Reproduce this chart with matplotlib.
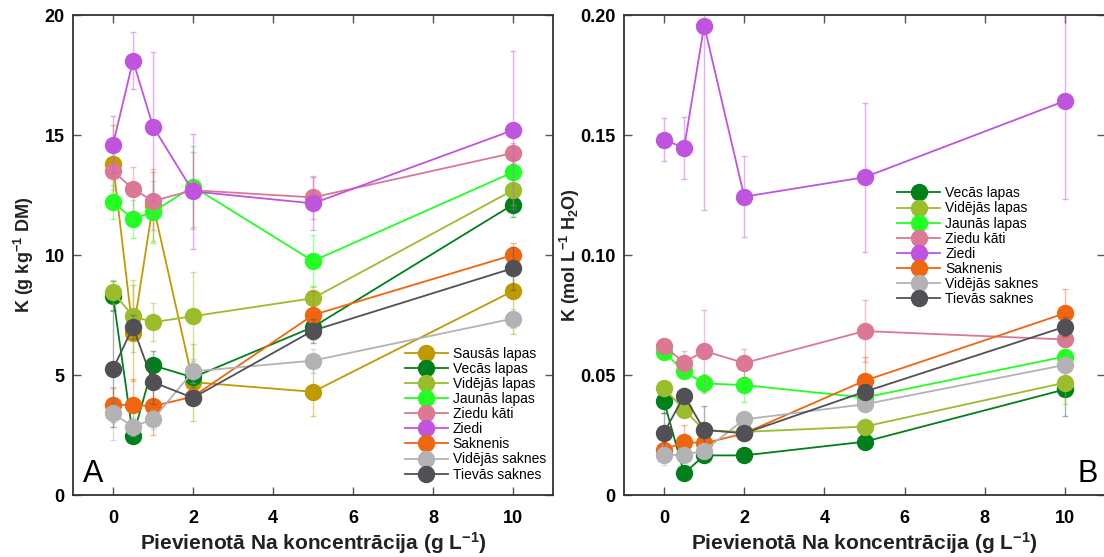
import matplotlib
matplotlib.use('Agg')
import matplotlib.pyplot as plt
from matplotlib.colors import to_rgba

plt.rcParams['font.family'] = ['Liberation Sans', 'DejaVu Sans']
plt.rcParams['mathtext.fontset'] = 'custom'
plt.rcParams['mathtext.rm'] = 'Liberation Sans:bold'
plt.rcParams['mathtext.bf'] = 'Liberation Sans:bold'
plt.rcParams['mathtext.default'] = 'bf'

# added Na concentration (g/L)
x = [0, 0.5, 1, 2, 5, 10]

labels = ['Sausās lapas', 'Vecās lapas', 'Vidējās lapas', 'Jaunās lapas',
          'Ziedu kāti', 'Ziedi', 'Saknenis', 'Vidējās saknes', 'Tievās saknes']
colors = ['#bf9a00', '#00801a', '#9bbd2b', '#22ff22', '#db7893',
          '#bf55de', '#f0650f', '#b3b3b6', '#505055']

# panel A: K (g/kg DM)
sausas_A = [13.8, 6.75, 12.1, 4.7, 4.3, 8.5]
vecas_A = [8.3, 2.45, 5.4, 4.9, 7.0, 12.1]
vidlapas_A = [8.45, 7.45, 7.2, 7.45, 8.2, 12.7]
jaunas_A = [12.2, 11.5, 11.8, 12.85, 9.75, 13.45]
ziedu_kati_A = [13.5, 12.75, 12.25, 12.7, 12.4, 14.25]
ziedi_A = [14.6, 18.1, 15.35, 12.65, 12.15, 15.2]
saknenis_A = [3.75, 3.75, 3.7, 4.1, 7.5, 10.0]
vidsaknes_A = [3.4, 2.85, 3.15, 5.15, 5.6, 7.35]
tievas_A = [5.25, 7.0, 4.7, 4.05, 6.85, 9.45]

sausas_A_err = [1.6, 2.0, 1.5, 1.6, 1.0, 1.8]
vecas_A_err = [0.6, 0.2, 0.6, 0.4, 0.5, 0.5]
vidlapas_A_err = [0.5, 1.5, 0.8, 1.85, 0.5, 0.6]
jaunas_A_err = [0.7, 0.8, 1.3, 1.7, 1.1, 0.5]
ziedu_kati_A_err = [0.8, 0.9, 1.2, 1.6, 0.9, 0.4]
ziedi_A_err = [1.2, 1.2, 3.1, 2.4, 1.1, 3.3]
saknenis_A_err = [0.7, 1.1, 1.2, 0.3, 1.0, 0.5]
vidsaknes_A_err = [1.1, 0.4, 0.4, 0.5, 0.5, 0.4]
tievas_A_err = [2.4, 0.5, 0.9, 0.3, 0.5, 0.9]

# panel B: K (mol/L H2O), no dry leaves
vecas_B = [0.039, 0.009, 0.0165, 0.0165, 0.0222, 0.044]
vidlapas_B = [0.0445, 0.0355, 0.027, 0.0263, 0.0285, 0.0468]
jaunas_B = [0.0595, 0.0515, 0.0465, 0.0458, 0.0406, 0.0577]
ziedu_kati_B = [0.062, 0.0552, 0.06, 0.055, 0.0683, 0.0648]
ziedi_B = [0.148, 0.1447, 0.1956, 0.1243, 0.1324, 0.1642]
saknenis_B = [0.0188, 0.0222, 0.0215, 0.0257, 0.0476, 0.0757]
vidsaknes_B = [0.0167, 0.0167, 0.0185, 0.0315, 0.0378, 0.0542]
tievas_B = [0.026, 0.0414, 0.0271, 0.0257, 0.043, 0.0701]

vecas_B_err = [0.005, 0.002, 0.002, 0.002, 0.003, 0.011]
vidlapas_B_err = [0.003, 0.003, 0.003, 0.003, 0.002, 0.009]
jaunas_B_err = [0.002, 0.002, 0.004, 0.007, 0.004, 0.003]
ziedu_kati_B_err = [0.002, 0.005, 0.017, 0.006, 0.013, 0.003]
ziedi_B_err = [0.009, 0.013, 0.077, 0.017, 0.031, 0.041]
saknenis_B_err = [0.003, 0.007, 0.003, 0.002, 0.010, 0.010]
vidsaknes_B_err = [0.004, 0.002, 0.002, 0.003, 0.003, 0.003]
tievas_B_err = [0.008, 0.003, 0.010, 0.002, 0.003, 0.004]

series_A = [sausas_A, vecas_A, vidlapas_A, jaunas_A, ziedu_kati_A,
            ziedi_A, saknenis_A, vidsaknes_A, tievas_A]
errors_A = [sausas_A_err, vecas_A_err, vidlapas_A_err, jaunas_A_err,
            ziedu_kati_A_err, ziedi_A_err, saknenis_A_err, vidsaknes_A_err,
            tievas_A_err]
series_B = [None, vecas_B, vidlapas_B, jaunas_B, ziedu_kati_B,
            ziedi_B, saknenis_B, vidsaknes_B, tievas_B]
errors_B = [None, vecas_B_err, vidlapas_B_err, jaunas_B_err, ziedu_kati_B_err,
            ziedi_B_err, saknenis_B_err, vidsaknes_B_err, tievas_B_err]

fig = plt.figure(figsize=(11.04, 5.57), dpi=100)
W, H = 1104, 557
axA = fig.add_axes([73 / W, 1 - 495 / H, 480 / W, 480 / H])
axB = fig.add_axes([624 / W, 1 - 495 / H, 481 / W, 480 / H])


def draw(ax, series, errors):
    for i, (y, e) in enumerate(zip(series, errors)):
        if y is None:
            continue
        c = colors[i]
        ax.errorbar(x, y, yerr=e, color=c, ecolor=to_rgba(c, 0.45),
                    elinewidth=1, capsize=2.5, capthick=1, lw=1.3,
                    marker='o', ms=11.5, mec=c, label=labels[i],
                    zorder=2 + i * 0.1)


def style(ax):
    ax.set_xlim(-1, 11)
    ax.set_xticks([0, 2, 4, 6, 8, 10])
    ax.tick_params(direction='in', length=6, width=1, color='#555555',
                   top=True, right=True, labelsize=13)
    ax.tick_params(axis='x', pad=11)
    ax.tick_params(axis='y', pad=6)
    for lab in ax.get_xticklabels() + ax.get_yticklabels():
        lab.set_fontweight('bold')
    for s in ax.spines.values():
        s.set_color('#333333')
        s.set_linewidth(1.3)
    ax.set_xlabel('Pievienotā Na koncentrācija (g L$^{-1}$)', fontsize=15,
                  fontweight='bold', labelpad=2, color='#222222')


def add_legend(ax, loc, anchor):
    ax.legend(loc=loc, bbox_to_anchor=anchor, frameon=False,
              fontsize=10, labelspacing=0.08, handlelength=3.1,
              handletextpad=0.35, borderpad=0, borderaxespad=0)


draw(axA, series_A, errors_A)
axA.set_ylim(0, 20)
axA.set_yticks([0, 5, 10, 15, 20])
style(axA)
axA.set_ylabel('K (g kg$^{-1}$ DM)', fontsize=13, fontweight='bold',
               labelpad=6, color='#222222')
axA.text(0.02, 0.013, 'A', transform=axA.transAxes, fontsize=22,
         ha='left', va='bottom')
add_legend(axA, 'lower right', (0.985, 0.028))

draw(axB, series_B, errors_B)
axB.set_ylim(0, 0.2)
axB.set_yticks([0, 0.05, 0.10, 0.15, 0.20])
axB.set_yticklabels(['0', '0.05', '0.10', '0.15', '0.20'])
style(axB)
axB.set_ylabel('K (mol L$^{-1}$ H$_2$O)', fontsize=13, fontweight='bold',
               labelpad=-1, color='#222222')
axB.text(0.985, 0.013, 'B', transform=axB.transAxes, fontsize=22,
         ha='right', va='bottom')
add_legend(axB, 'upper left', (0.568, 0.643))

fig.savefig('out.png', dpi=100)
